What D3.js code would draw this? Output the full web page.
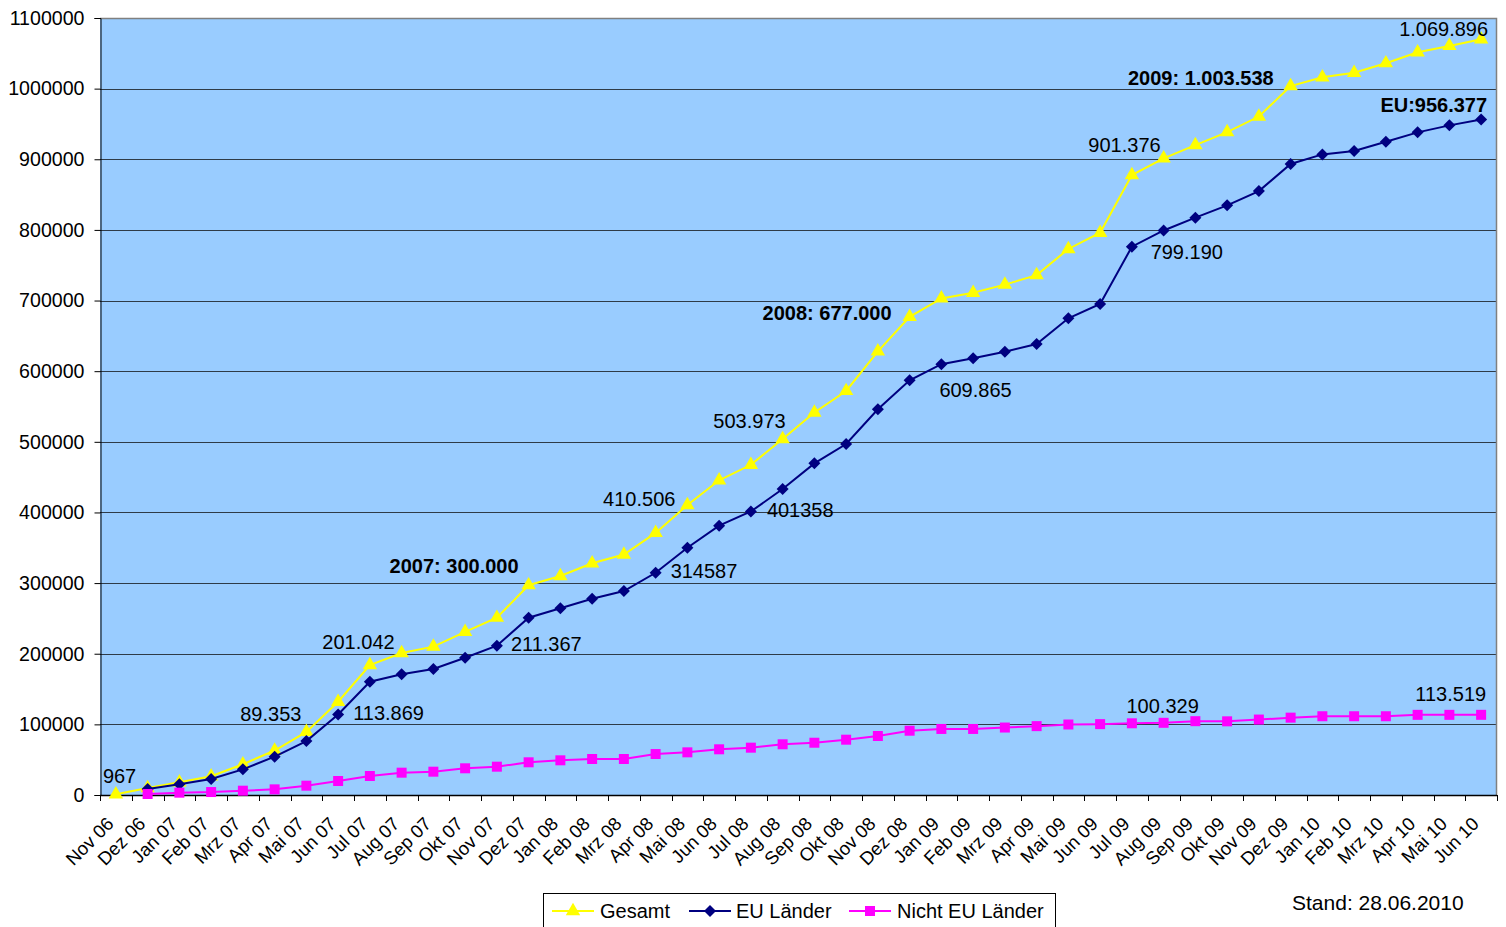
<!DOCTYPE html>
<html>
<head>
<meta charset="utf-8">
<script src="https://cdn.jsdelivr.net/npm/d3@7"></script>
<style>
  html, body { margin: 0; padding: 0; background: #ffffff; }
  svg { display: block; font-family: "Liberation Sans", Arial, sans-serif; }
</style>
</head>
<body>
<svg id="chart" width="1506" height="927"></svg>
<script>
// ---- data ----
const months = ["Nov 06","Dez 06","Jan 07","Feb 07","Mrz 07","Apr 07","Mai 07","Jun 07","Jul 07","Aug 07","Sep 07","Okt 07","Nov 07","Dez 07","Jan 08","Feb 08","Mrz 08","Apr 08","Mai 08","Jun 08","Jul 08","Aug 08","Sep 08","Okt 08","Nov 08","Dez 08","Jan 09","Feb 09","Mrz 09","Apr 09","Mai 09","Jun 09","Jul 09","Aug 09","Sep 09","Okt 09","Nov 09","Dez 09","Jan 10","Feb 10","Mrz 10","Apr 10","Mai 10","Jun 10"];

const gesamt = [967, 9900, 18000, 26500, 43500, 63000, 89353, 132000, 184000, 201042, 210000, 231000, 251000, 297000, 310000, 328000, 340500, 371000, 410506, 445500, 467500, 503973, 541500, 572000, 628000, 677000, 703000, 711000, 722500, 736000, 773000, 796000, 877700, 901376, 920000, 938500, 960500, 1003538, 1016000, 1022500, 1036000, 1051500, 1060500, 1069896];

const euLaender = [null, 8500, 15100, 22600, 36300, 54300, 76400, 113869, 160400, 171000, 178400, 194400, 211367, 251000, 264300, 277900, 288800, 314587, 350100, 381300, 401358, 433200, 469500, 496900, 546000, 587000, 609865, 618200, 627600, 638400, 674800, 695100, 776200, 799190, 817300, 834800, 855000, 893300, 906900, 911700, 924900, 938100, 948000, 956377];

const nichtEu = [null, 1400, 3300, 4200, 6100, 8000, 13200, 19800, 26900, 31600, 33000, 37800, 40100, 46300, 49100, 51000, 51000, 58000, 60400, 64700, 67000, 71800, 74000, 78300, 83500, 91000, 93500, 93500, 95500, 97500, 99800, 100329, 101500, 102186, 104500, 104300, 106800, 109500, 111500, 111500, 111500, 113500, 113500, 113519];

const yTicks = [0, 100000, 200000, 300000, 400000, 500000, 600000, 700000, 800000, 900000, 1000000, 1100000];

const seriesNames = ["Gesamt", "EU Länder", "Nicht EU Länder"];

// annotation texts: [text, series index, month index]
const labelTexts = [
  ["967", 0, 0], ["89.353", 0, 6], ["201.042", 0, 9], ["113.869", 1, 7],
  ["211.367", 1, 12], ["2007: 300.000", 0, 13], ["314587", 1, 17], ["410.506", 0, 18],
  ["401358", 1, 20], ["503.973", 0, 21], ["2008: 677.000", 0, 25], ["609.865", 1, 26],
  ["799.190", 1, 33], ["901.376", 0, 33], ["2009: 1.003.538", 0, 37], ["EU:956.377", 1, 43],
  ["1.069.896", 0, 43], ["100.329", 2, 33], ["113.519", 2, 43]
];
const standText = "Stand: 28.06.2010";

// ---- layout / style (not data) ----
const labelStyle = [ // anchor, dx, dy, bold
  ["start", -13, -11, false], ["end", -5, -11, false], ["end", -7, -4, false], ["start", 15, 5, false],
  ["start", 14, 5, false], ["end", -10, -12, true], ["start", 15, 5, false], ["end", -12, 1, false],
  ["start", 16, 6, false], ["end", 3, -11, false], ["end", -18, 3, true], ["start", -2, 33, false],
  ["start", -13, 29, false], ["end", -3, -6, false], ["end", -17, -1, true], ["end", 6, -7, true],
  ["end", 7, -3, false], ["middle", -1, -10, false], ["end", 5, -14, false]
];
const colors = ["#FFFF00", "#000080", "#FF00FF"];
const L = 100, R = 1497, T = 18, B = 795;

const svg = d3.select("#chart");
const x = d3.scaleBand().domain(months).range([L, R]).padding(0);
const y = d3.scaleLinear().domain([0, 1100000]).range([B, T]);
const cx = m => x(m) + x.bandwidth() / 2;

// plot background
svg.append("rect").attr("x", L).attr("y", T).attr("width", R - L).attr("height", B - T)
  .attr("fill", "#99CCFF");

// gridlines
svg.append("g").selectAll("line").data(yTicks.filter(d => d > 0)).join("line")
  .attr("x1", L).attr("x2", R)
  .attr("y1", d => Math.round(y(d)) + 0.5).attr("y2", d => Math.round(y(d)) + 0.5)
  .attr("stroke", "#2e3b48").attr("stroke-width", 1);

// plot border (top/right gray)
svg.append("path")
  .attr("d", `M${L},${T + 0.5}H${R - 0.5}V${B}`)
  .attr("fill", "none").attr("stroke", "#808080").attr("stroke-width", 1.5);

// y axis
const yAxis = d3.axisLeft(y).tickValues(yTicks).tickFormat(d3.format("d")).tickSize(6).tickPadding(10);
const gy = svg.append("g").attr("transform", `translate(${L + 0.5},0)`).call(yAxis);
gy.select(".domain").attr("stroke", "#000");
gy.selectAll(".tick line").attr("stroke", "#000");
gy.selectAll(".tick text").attr("font-size", 19.6).attr("fill", "#000")
  .attr("font-family", "'Liberation Sans', Arial, sans-serif");

// x axis with ticks at category boundaries
svg.append("line").attr("x1", L).attr("x2", R).attr("y1", B + 0.5).attr("y2", B + 0.5)
  .attr("stroke", "#000").attr("stroke-width", 1.5);
svg.append("g").selectAll("line").data(months.concat(["__end"])).join("line")
  .attr("x1", (d, i) => Math.round(L + i * x.bandwidth()) + 0.5)
  .attr("x2", (d, i) => Math.round(L + i * x.bandwidth()) + 0.5)
  .attr("y1", B).attr("y2", B + 6).attr("stroke", "#000");
svg.append("g").selectAll("text").data(months).join("text")
  .attr("transform", d => `translate(${cx(d) - 1},${B + 30}) rotate(-45)`)
  .attr("text-anchor", "end")
  .attr("font-size", 18.5).attr("fill", "#000")
  .text(d => d);

// series
const series = [gesamt, euLaender, nichtEu];
const line = d3.line().defined(d => d.v != null).x(d => cx(d.m)).y(d => y(d.v));
const symbols = [
  d3.symbol().type(d3.symbolTriangle).size(90),
  d3.symbol().type(d3.symbolSquare).size(72),
  d3.symbol().type(d3.symbolSquare).size(100)
];
const symRot = [0, 45, 0];

series.forEach((vals, si) => {
  const pts = vals.map((v, i) => ({ m: months[i], v }));
  svg.append("path").datum(pts).attr("d", line)
    .attr("fill", "none").attr("stroke", colors[si]).attr("stroke-width", 2);
  svg.append("g").selectAll("path").data(pts.filter(d => d.v != null)).join("path")
    .attr("d", symbols[si])
    .attr("transform", d => `translate(${cx(d.m)},${y(d.v)}) rotate(${symRot[si]})`)
    .attr("fill", colors[si]);
});

// annotations
svg.append("g").selectAll("text").data(labelTexts).join("text")
  .attr("x", (d, i) => cx(months[d[2]]) + labelStyle[i][1])
  .attr("y", (d, i) => y(series[d[1]][d[2]]) + labelStyle[i][2])
  .attr("text-anchor", (d, i) => labelStyle[i][0])
  .attr("font-weight", (d, i) => labelStyle[i][3] ? "bold" : "normal")
  .attr("font-size", 20).attr("fill", "#000")
  .text(d => d[0]);

// legend
const lg = svg.append("g");
lg.append("rect").attr("x", 543.5).attr("y", 893.5).attr("width", 512).attr("height", 40)
  .attr("fill", "#fff").attr("stroke", "#000").attr("stroke-width", 1);
const legendX = [552, 689, 849];
const legendTextX = [600, 736, 897];
seriesNames.forEach((name, si) => {
  lg.append("line").attr("x1", legendX[si]).attr("x2", legendX[si] + 42)
    .attr("y1", 911).attr("y2", 911).attr("stroke", colors[si]).attr("stroke-width", 2);
  lg.append("path").attr("d", symbols[si])
    .attr("transform", `translate(${legendX[si] + 21},911) rotate(${symRot[si]})`)
    .attr("fill", colors[si]);
  lg.append("text").attr("x", legendTextX[si]).attr("y", 918)
    .attr("font-size", 20).attr("fill", "#000").text(name);
});

svg.append("text").attr("x", 1292).attr("y", 910).attr("font-size", 21)
  .attr("fill", "#000").text(standText);
</script>
</body>
</html>
